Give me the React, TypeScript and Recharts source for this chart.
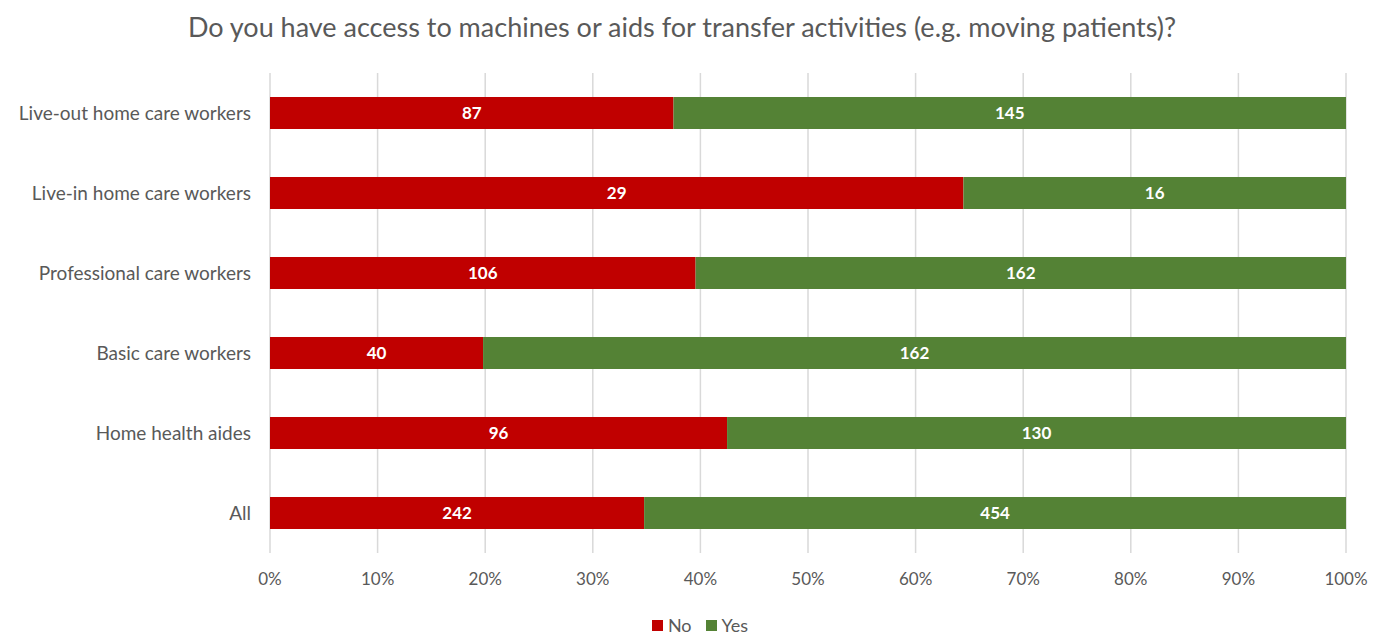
import { BarChart, Bar, XAxis, YAxis, CartesianGrid, LabelList } from 'recharts';

const categories = [
  'Live-out home care workers',
  'Live-in home care workers',
  'Professional care workers',
  'Basic care workers',
  'Home health aides',
  'All',
];
const noCounts = [87, 29, 106, 40, 96, 242];
const yesCounts = [145, 16, 162, 162, 130, 454];
const xTicks = [0, 0.1, 0.2, 0.3, 0.4, 0.5, 0.6, 0.7, 0.8, 0.9, 1];

const RED = '#C00000';
const GREEN = '#548235';
const TEXT = '#595959';
const FONT = 'Lato, "Open Sans", sans-serif';

const data = categories.map((name, i) => ({ name, no: noCounts[i], yes: yesCounts[i] }));

export default function App() {
  return (
    <div style={{ position: 'absolute', left: 0, top: 0, width: 1374, height: 635, background: '#fff', fontFamily: FONT }}>
      <div style={{ position: 'absolute', top: 10, left: 0, width: 1364, textAlign: 'center', fontSize: 27, color: TEXT }}>
        Do you have access to machines or aids for transfer activities (e.g. moving patients)?
      </div>
      <BarChart
        width={1374}
        height={635}
        data={data}
        layout="vertical"
        stackOffset="expand"
        margin={{ top: 73, right: 28, bottom: 48, left: 0 }}
        style={{ position: 'absolute', left: 0, top: 0 }}
      >
        <CartesianGrid horizontal={false} stroke="#d9d9d9" strokeWidth={1.5} />
        <XAxis
          type="number"
          domain={[0, 1]}
          ticks={xTicks}
          tickFormatter={(v: number) => `${Math.round(v * 100)}%`}
          axisLine={false}
          tickLine={false}
          tickMargin={14}
          tick={{ fill: TEXT, fontSize: 17, fontFamily: FONT }}
          height={34}
        />
        <YAxis
          type="category"
          dataKey="name"
          width={270}
          axisLine={false}
          tickLine={false}
          tickMargin={13}
          tick={{ fill: TEXT, fontSize: 19, fontFamily: FONT }}
        />
        <Bar dataKey="no" stackId="a" fill={RED} barSize={32} isAnimationActive={false}>
          <LabelList dataKey="no" position="center" fill="#fff" fontSize={17} fontWeight="bold" fontFamily={FONT} />
        </Bar>
        <Bar dataKey="yes" stackId="a" fill={GREEN} barSize={32} isAnimationActive={false}>
          <LabelList dataKey="yes" position="center" fill="#fff" fontSize={17} fontWeight="bold" fontFamily={FONT} />
        </Bar>
      </BarChart>
      <div style={{ position: 'absolute', top: 614, left: 0, width: 1400, display: 'flex', justifyContent: 'center', gap: 14, fontSize: 18, color: TEXT }}>
        <span style={{ display: 'flex', alignItems: 'center', gap: 5 }}>
          <span style={{ width: 11, height: 11, background: RED, display: 'inline-block' }} />No
        </span>
        <span style={{ display: 'flex', alignItems: 'center', gap: 5 }}>
          <span style={{ width: 11, height: 11, background: GREEN, display: 'inline-block' }} />Yes
        </span>
      </div>
    </div>
  );
}
